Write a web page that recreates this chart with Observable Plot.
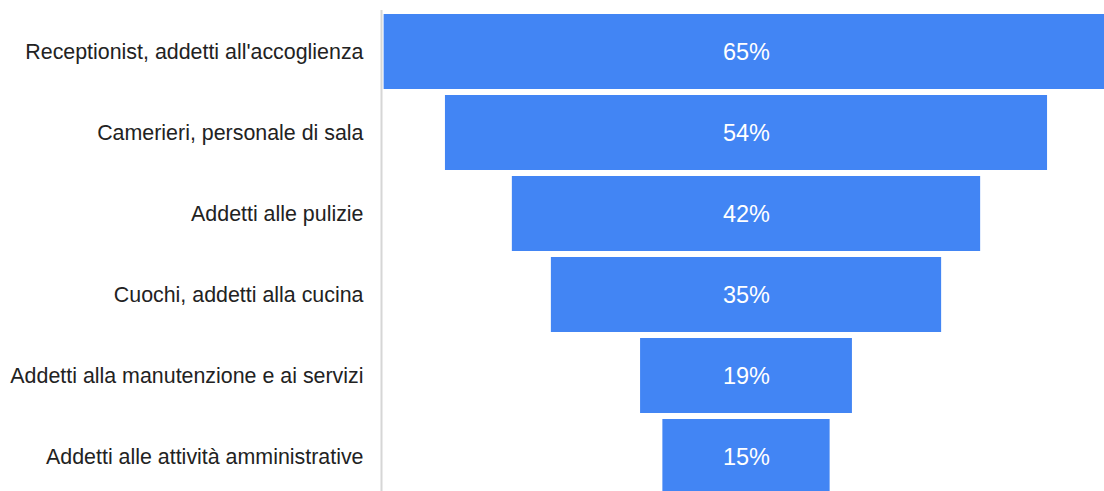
<!DOCTYPE html>
<html>
<head>
<meta charset="utf-8">
<script src="https://cdn.jsdelivr.net/npm/d3@7"></script>
<script src="https://cdn.jsdelivr.net/npm/@observablehq/plot@0.6"></script>
<style>
  html, body { margin: 0; padding: 0; background: #fff; overflow: hidden; }
</style>
</head>
<body>
<div id="chart"></div>
<script>
const categories = [
  "Receptionist, addetti all'accoglienza",
  "Camerieri, personale di sala",
  "Addetti alle pulizie",
  "Cuochi, addetti alla cucina",
  "Addetti alla manutenzione e ai servizi",
  "Addetti alle attività amministrative"
];
const values = [65, 54, 42, 35, 19, 15];

const data = categories.map((c, i) => ({category: c, value: values[i]}));

const W = 1104, H = 491, ML = 381;
const pxPerUnit = 11.15, center = 746;
const xMin = (ML - center) / pxPerUnit;
const xMax = (W - center) / pxPerUnit;

const chart = Plot.plot({
  width: W,
  height: H,
  marginLeft: ML,
  marginRight: 0,
  marginTop: 10,
  marginBottom: 0,
  style: {fontFamily: "Arial, 'Liberation Sans', sans-serif", fontSize: "21.4px", color: "#222", background: "#fff"},
  x: {domain: [xMin, xMax], axis: null},
  y: {domain: categories, range: [11, 497], paddingInner: 0.074, paddingOuter: 0.037, label: null},
  marks: [
    Plot.barX(data, {y: "category", x1: d => -d.value / 2, x2: d => d.value / 2, fill: "#4285F4", clip: true}),
    Plot.ruleX([xMin], {stroke: "#d6d6d6", strokeWidth: 2}),
    Plot.text(data, {y: "category", x: 0, text: d => `${d.value}%`, fill: "white", fontSize: 23.5}),
    Plot.axisY({tickSize: 0, tickPadding: 18, fill: "#222", label: null, fontSize: 21.4})
  ]
});
document.getElementById("chart").appendChild(chart);
</script>
</body>
</html>
